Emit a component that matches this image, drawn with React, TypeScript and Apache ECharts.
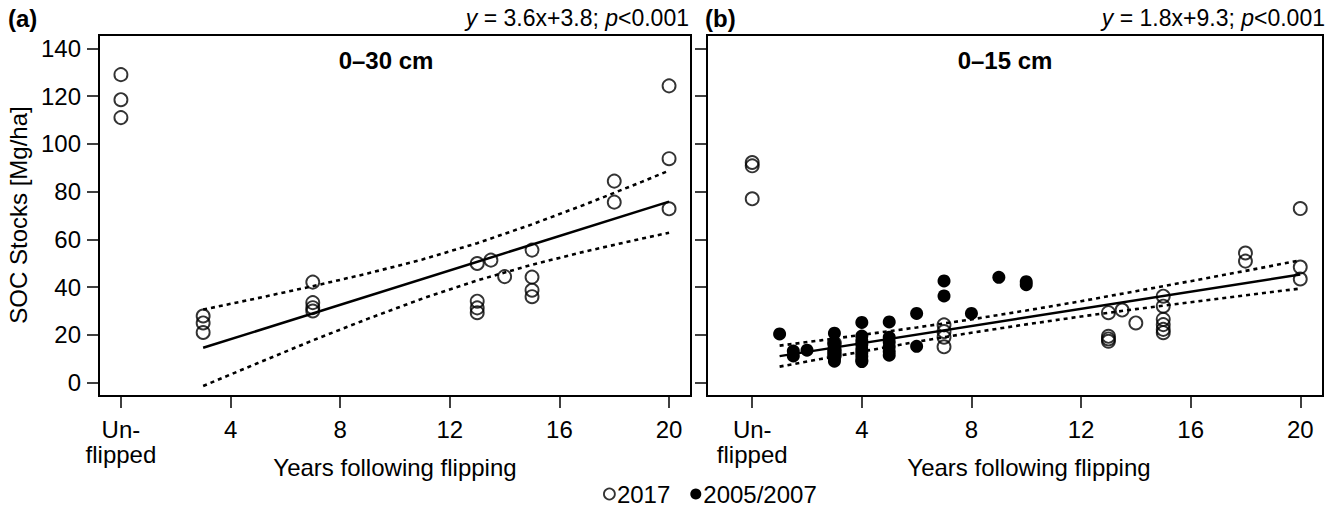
import { useEffect, useRef } from 'react';
import * as echarts from 'echarts';

const FONT = '"Liberation Sans", Arial, Helvetica, sans-serif';

const yTicks = [0, 20, 40, 60, 80, 100, 120, 140];
const xTicks = [0, 4, 8, 12, 16, 20];
const unflippedLabel = 'Un-\nflipped';

// Panel (a) 0–30 cm, 2017 sampling (x = years, 0 = unflipped)
const a2017X = [0, 0, 0, 3, 3, 3, 7, 7, 7, 7, 13, 13, 13, 13, 13.5, 14, 15, 15, 15, 15, 18, 18, 20, 20, 20];
const a2017Y = [129, 118.5, 111, 27.9, 25.0, 21.0, 42.1, 33.5, 31.4, 30.0, 49.9, 34.1, 31.3, 29.3, 51.3, 44.4, 55.5, 44.2, 38.7, 36.0, 84.4, 75.6, 124.3, 93.8, 72.8];

// Panel (b) 0–15 cm, 2017 sampling
const b2017X = [0, 0, 0, 3, 3, 3, 7, 7, 7, 7, 13, 13, 13, 13, 13.5, 14, 15, 15, 15, 15, 15, 15, 18, 18, 20, 20, 20];
const b2017Y = [92.2, 90.8, 77.0, 16.5, 13.5, 11.5, 24.2, 21.4, 19.0, 15.0, 29.3, 19.4, 18.3, 17.3, 30.4, 25.0, 36.2, 32.0, 26.5, 24.3, 22.3, 20.9, 54.3, 50.9, 72.9, 48.4, 43.4];

// Panel (b) 0–15 cm, 2005/2007 sampling
const b0507X = [1, 1.5, 1.5, 2, 3, 3, 3, 3, 3, 3, 3, 4, 4, 4, 4, 4, 4, 4, 4, 4, 5, 5, 5, 5, 5, 5, 6, 6, 7, 7, 8, 9, 10, 10];
const b0507Y = [20.4, 13.2, 11.2, 13.6, 20.7, 16.5, 14.5, 13.0, 11.5, 10.0, 9.0, 25.2, 19.5, 17.5, 16.0, 14.0, 12.5, 11.0, 9.5, 8.8, 25.4, 19.0, 17.0, 15.0, 13.0, 11.5, 29.0, 15.2, 42.6, 36.3, 29.0, 44.1, 42.3, 41.0];

// Regression lines (end points) and confidence bands
const fitAX = [3, 20];
const fitAY = [14.6, 75.8];
const bandAX = [3, 5, 7, 9, 11, 13, 15, 17, 19, 20];
const bandAUpper = [30.6, 35.4, 40.4, 45.7, 51.6, 58.4, 66.3, 74.9, 84.1, 88.8];
const bandALower = [-1.4, 8.2, 17.7, 26.7, 35.2, 42.8, 49.4, 55.1, 60.3, 62.8];

const fitBX = [1, 20];
const fitBY = [11.1, 45.3];
const bandBX = [1, 2.5, 4, 6, 8, 10, 12, 14, 16, 18, 20];
const bandBUpper = [15.5, 17.7, 20.0, 23.1, 26.5, 30.2, 34.1, 38.3, 42.5, 46.8, 51.2];
const bandBLower = [6.7, 9.9, 13.0, 17.1, 20.9, 24.4, 27.7, 30.8, 33.7, 36.6, 39.4];

const zip = (xs: number[], ys: number[]) => xs.map((x, i) => [x, ys[i]]);

export default function App() {
  const ref = useRef<HTMLDivElement>(null);
  useEffect(() => {
    if (!ref.current) return;
    const chart = echarts.init(ref.current, null, { renderer: 'svg' });
    const tickStyle = { show: true, inside: false, length: 12, lineStyle: { color: '#000', width: 1.5 } };
    const labelStyle = { color: '#000', fontSize: 24, fontFamily: FONT };
    const mkX = (gi: number, min: number, max: number) => ({
      type: 'value', gridIndex: gi, min, max,
      axisLine: { show: true, onZero: false, lineStyle: { color: '#000', width: 2 } },
      axisTick: { ...tickStyle, customValues: xTicks },
      axisLabel: {
        ...labelStyle, margin: 21, lineHeight: 25, customValues: xTicks,
        formatter: (v: number) => (v === 0 ? unflippedLabel : String(v)),
      },
      splitLine: { show: false },
    });
    const mkY = (gi: number, showLabel: boolean) => ({
      type: 'value', gridIndex: gi, min: -5.6, max: 145.6,
      axisLine: { show: true, onZero: false, lineStyle: { color: '#000', width: 2 } },
      axisTick: { ...tickStyle, customValues: yTicks },
      axisLabel: { ...labelStyle, show: showLabel, margin: 18, customValues: yTicks },
      splitLine: { show: false },
    });
    const openStyle = { color: 'rgba(0,0,0,0)', borderColor: '#000', borderWidth: 1.9 };
    const solid = { color: '#000', width: 2.5, type: 'solid' };
    const dotted = { color: '#000', width: 2.6, type: [4, 4] };
    const lineSeries = (name: string, gi: number, data: number[][], ls: any) => ({
      name, type: 'line', xAxisIndex: gi, yAxisIndex: gi, data, symbol: 'none', showSymbol: false,
      lineStyle: ls, z: 2, silent: true,
    });
    const title = (txt: string, x: number, y: number, align: string, bold = false, size = 24) => ({
      type: 'text', x, y,
      style: {
        text: txt, fill: '#000', fontSize: size, fontFamily: FONT, fontWeight: bold ? 'bold' : 'normal',
        textAlign: align, textVerticalAlign: 'middle',
        rich: {
          i: { fontStyle: 'italic', fontSize: size, fontFamily: FONT, fill: '#000' },
          n: { fontSize: size, fontFamily: FONT, fill: '#000' },
        },
      },
    });
    chart.setOption({
      animation: false,
      backgroundColor: '#fff',
      grid: [
        { left: 99, top: 35, width: 592, height: 361, show: true, borderColor: '#000', borderWidth: 2, backgroundColor: 'transparent' },
        { left: 707, top: 35, width: 616, height: 361, show: true, borderColor: '#000', borderWidth: 2, backgroundColor: 'transparent' },
      ],
      xAxis: [mkX(0, -0.8, 20.8), mkX(1, -1.65, 20.83)],
      yAxis: [mkY(0, true), mkY(1, false)],
      legend: {
        left: 603, top: 482, padding: 0, itemWidth: 11, itemHeight: 11, itemGap: 20,
        textStyle: { color: '#000', fontSize: 24, lineHeight: 22, fontFamily: FONT, padding: [0, 0, 0, -3] },
        data: [
          { name: '2017', icon: 'circle', itemStyle: { color: 'rgba(0,0,0,0)', borderColor: '#000', borderWidth: 1.8 } },
          { name: '2005/2007', icon: 'circle', itemStyle: { color: '#000' } },
        ],
        selectedMode: false,
      },
      series: [
        lineSeries('fitA', 0, zip(fitAX, fitAY), solid),
        lineSeries('upperA', 0, zip(bandAX, bandAUpper), dotted),
        lineSeries('lowerA', 0, zip(bandAX, bandALower), dotted),
        lineSeries('fitB', 1, zip(fitBX, fitBY), solid),
        lineSeries('upperB', 1, zip(bandBX, bandBUpper), dotted),
        lineSeries('lowerB', 1, zip(bandBX, bandBLower), dotted),
        { name: '2017', type: 'scatter', xAxisIndex: 0, yAxisIndex: 0, data: zip(a2017X, a2017Y), symbol: 'circle', symbolSize: 13, itemStyle: openStyle, z: 3 },
        { name: '2005/2007', type: 'scatter', xAxisIndex: 1, yAxisIndex: 1, data: zip(b0507X, b0507Y), symbol: 'circle', symbolSize: 13, itemStyle: { color: '#000', opacity: 1 }, z: 3 },
        { name: '2017', type: 'scatter', xAxisIndex: 1, yAxisIndex: 1, data: zip(b2017X, b2017Y), symbol: 'circle', symbolSize: 13, itemStyle: openStyle, z: 4 },
      ],
      graphic: [
        title('(a)', 8, 18, 'left', true),
        title('{i|y}{n| = 3.6x+3.8; }{i|p}{n|<0.001}', 689, 18, 'right', false, 23),
        title('(b)', 705, 18, 'left', true),
        title('{i|y}{n| = 1.8x+9.3; }{i|p}{n|<0.001}', 1325, 18, 'right', false, 23),
        title('0–30 cm', 386, 60, 'center', true),
        title('0–15 cm', 1005, 60, 'center', true),
        title('Years following flipping', 395, 467, 'center'),
        title('Years following flipping', 1029, 467, 'center'),
        { ...title('SOC Stocks [Mg/ha]', 18, 215, 'center', false, 24), rotation: Math.PI / 2 },
      ],
    });
    return () => chart.dispose();
  }, []);
  return <div ref={ref} style={{ position: 'absolute', left: 0, top: 0, width: 1336, height: 507 }} />;
}
